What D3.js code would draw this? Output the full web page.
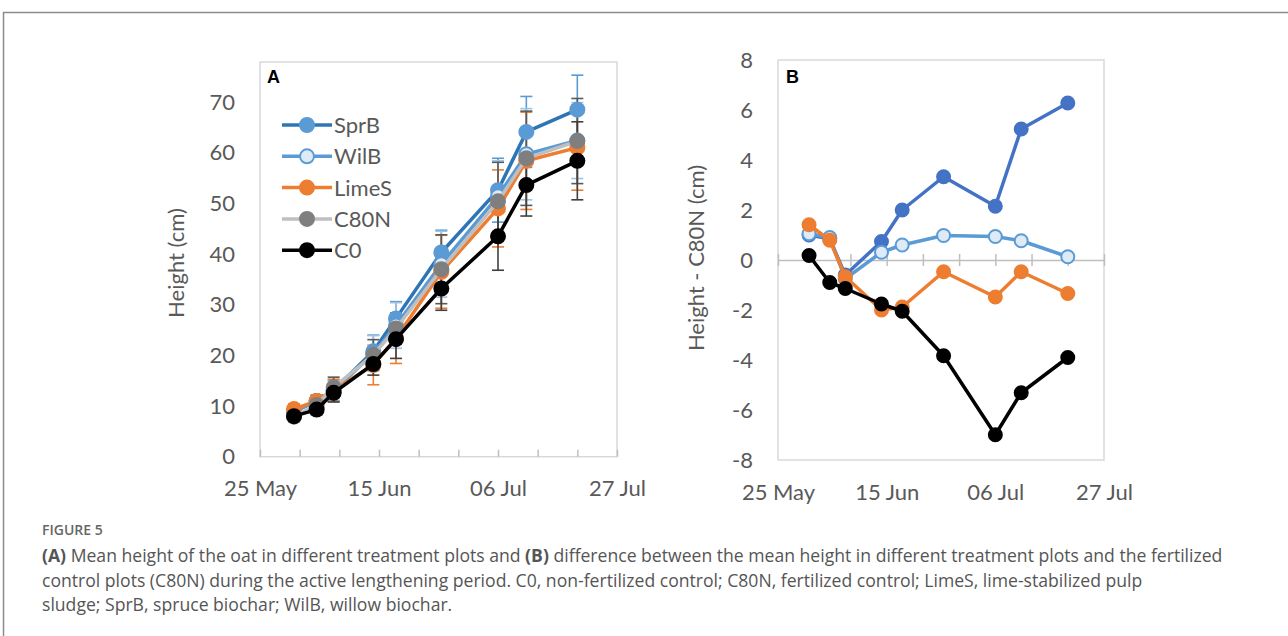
<!DOCTYPE html>
<html>
<head>
<meta charset="utf-8">
<script src="https://cdn.jsdelivr.net/npm/d3@7"></script>
<style>
  body { margin: 0; background: #fff; }
  svg { display: block; }
</style>
</head>
<body>
<div id="chart"></div>
<script>
// measurement dates (year is arbitrary)
const dates = ["2020-05-31", "2020-06-04", "2020-06-07", "2020-06-14", "2020-06-18",
               "2020-06-26", "2020-07-06", "2020-07-11", "2020-07-20"];
const xTickLabels = ["2020-05-25", "2020-06-15", "2020-07-06", "2020-07-27"];

// panel A: mean height (cm)
const sprB  = [8.9, 11.0, 13.1, 20.8, 27.3, 40.3, 52.6, 64.1, 68.5];
const wilB  = [8.9, 11.0, 12.9, 20.4, 25.9, 38.0, 51.4, 59.7, 62.4];
const limeS = [9.4, 11.0, 13.1, 18.1, 23.4, 36.5, 49.0, 58.4, 61.0];
const c80n  = [7.9, 10.2, 13.7, 20.1, 25.3, 37.0, 50.4, 58.9, 62.3];
const c0    = [8.0, 9.3, 12.6, 18.3, 23.2, 33.2, 43.5, 53.6, 58.4];

// panel A: error bars (+/-)
const sprBErr  = [1.0, 1.2, 2.0, 3.2, 3.3, 4.4, 6.3, 7.0, 6.8];
const wilBErr  = [1.0, 1.0, 2.0, 3.5, 4.5, 6.5, 7.0, 9.0, 7.5];
const limeSErr = [1.0, 1.2, 2.2, 3.9, 5.0, 7.2, 7.6, 9.6, 8.4];
const c80nErr  = [1.0, 1.1, 2.0, 3.0, 3.0, 6.8, 7.7, 9.3, 8.4];
const c0Err    = [0.8, 1.0, 1.8, 2.2, 3.8, 4.3, 6.7, 6.1, 7.7];

// panel B: height - C80N (cm)
const sprBDiff  = [1.0, 0.85, -0.6, 0.74, 2.0, 3.33, 2.15, 5.24, 6.28];
const wilBDiff  = [1.05, 0.9, -0.75, 0.31, 0.6, 0.98, 0.94, 0.77, 0.13];
const limeSDiff = [1.41, 0.79, -0.67, -2.0, -1.88, -0.47, -1.48, -0.47, -1.34];
const c0Diff    = [0.18, -0.9, -1.14, -1.76, -2.05, -3.83, -6.99, -5.31, -3.9];

const yTicksA = [0, 10, 20, 30, 40, 50, 60, 70];
const yTicksB = [-8, -6, -4, -2, 0, 2, 4, 6, 8];

const parse = d3.timeParse("%Y-%m-%d");
const xDates = dates.map(parse);
const labelDates = xTickLabels.map(parse);
const xStart = parse("2020-05-25"), xEnd = parse("2020-07-27");
// weekly tick marks counted from 25 May
const weekTicks = d3.range(0, 64, 7).map(k => d3.timeDay.offset(xStart, k));

const W = 1288, H = 636;
const font = "Lato, 'Open Sans', sans-serif";
const textGrey = "#595959";

const svg = d3.select("#chart").append("svg")
  .attr("width", W).attr("height", H)
  .attr("viewBox", `0 0 ${W} ${H}`);

// outer figure box
svg.append("rect")
  .attr("x", 3.5).attr("y", 12.5)
  .attr("width", W + 10).attr("height", H + 10)
  .attr("fill", "none").attr("stroke", "#8c8c8c").attr("stroke-width", 1.5);

function drawAxes(g, x, y, yTicks, zeroLine) {
  const [x0, x1] = x.range();
  const [yb, yt] = y.range();
  g.append("rect")
    .attr("x", x0).attr("y", yt)
    .attr("width", x1 - x0).attr("height", yb - yt)
    .attr("fill", "none").attr("stroke", "#d9d9d9").attr("stroke-width", 1.5);

  // week tick marks
  const tickY = zeroLine ? y(0) : yb;
  const tickAxis = g.append("g")
    .attr("transform", `translate(0,${tickY})`)
    .call(d3.axisBottom(x).tickValues(weekTicks)
      .tickSizeInner(zeroLine ? 6 : -7).tickSizeOuter(0).tickFormat(""));
  tickAxis.select(".domain").attr("stroke", zeroLine ? "#bfbfbf" : "none").attr("stroke-width", 1.5);
  tickAxis.selectAll(".tick line").attr("stroke", "#bfbfbf").attr("stroke-width", 1.5);
  if (zeroLine) tickAxis.selectAll(".tick line").attr("y1", -6);

  // date labels
  const lab = g.append("g")
    .attr("transform", `translate(0,${yb})`)
    .call(d3.axisBottom(x).tickValues(labelDates).tickSize(0).tickPadding(24)
      .tickFormat(d3.timeFormat("%d %b")));
  lab.select(".domain").remove();
  lab.selectAll("text").attr("font-family", font).attr("font-size", 22).attr("fill", textGrey);

  // y labels (plain hyphen for negatives)
  const ya = g.append("g")
    .attr("transform", `translate(${x0},0)`)
    .call(d3.axisLeft(y).tickValues(yTicks).tickSize(0).tickPadding(25).tickFormat(d => String(d)));
  ya.select(".domain").remove();
  ya.selectAll("text").attr("font-family", font).attr("font-size", 22).attr("fill", textGrey);
}

function drawSeries(g, x, y, vals, s, r) {
  const pts = xDates.map((d, i) => ({ d, v: vals[i] }));
  g.append("path")
    .datum(pts)
    .attr("fill", "none")
    .attr("stroke", s.line)
    .attr("stroke-width", 3.5)
    .attr("stroke-linejoin", "round")
    .attr("d", d3.line().x(p => x(p.d)).y(p => y(p.v)));
  g.selectAll(null)
    .data(pts)
    .join("circle")
    .attr("cx", p => x(p.d))
    .attr("cy", p => y(p.v))
    .attr("r", r)
    .attr("fill", s.fill)
    .attr("stroke", s.stroke)
    .attr("stroke-width", 2);
}

// ---------- panel A ----------
const xA = d3.scaleTime().domain([xStart, xEnd]).range([260, 617]);
const yA = d3.scaleLinear().domain([0, 77.9]).range([456.7, 62]);
const gA = svg.append("g");
drawAxes(gA, xA, yA, yTicksA, false);

const seriesA = [
  { name: "SprB",  vals: sprB,  err: sprBErr,  line: "#2e75b6", fill: "#5b9bd5", stroke: "#5b9bd5", errC: "#5b9bd5" },
  { name: "WilB",  vals: wilB,  err: wilBErr,  line: "#5b9bd5", fill: "#deebf7", stroke: "#5b9bd5", errC: "#9dc3e6" },
  { name: "LimeS", vals: limeS, err: limeSErr, line: "#ed7d31", fill: "#ed7d31", stroke: "#ed7d31", errC: "#ed7d31" },
  { name: "C80N",  vals: c80n,  err: c80nErr,  line: "#bfbfbf", fill: "#7f7f7f", stroke: "#7f7f7f", errC: "#595959" },
  { name: "C0",    vals: c0,    err: c0Err,    line: "#000000", fill: "#000000", stroke: "#000000", errC: "#404040" }
];

// error bars under the lines
seriesA.forEach(s => {
  const eb = gA.append("g").attr("stroke", s.errC).attr("stroke-width", 1.6);
  xDates.forEach((d, i) => {
    const cx = xA(d), lo = yA(s.vals[i] - s.err[i]), hi = yA(s.vals[i] + s.err[i]);
    eb.append("line").attr("x1", cx).attr("x2", cx).attr("y1", lo).attr("y2", hi);
    eb.append("line").attr("x1", cx - 6).attr("x2", cx + 6).attr("y1", lo).attr("y2", lo);
    eb.append("line").attr("x1", cx - 6).attr("x2", cx + 6).attr("y1", hi).attr("y2", hi);
  });
});
seriesA.forEach(s => drawSeries(gA, xA, yA, s.vals, s, 7));

// legend
const leg = gA.append("g");
seriesA.forEach((s, i) => {
  const ly = 125 + i * 31.3;
  leg.append("line").attr("x1", 282).attr("x2", 332).attr("y1", ly).attr("y2", ly)
    .attr("stroke", s.line).attr("stroke-width", 3.5);
  leg.append("circle").attr("cx", 307).attr("cy", ly).attr("r", 7)
    .attr("fill", s.fill).attr("stroke", s.stroke).attr("stroke-width", 2);
  leg.append("text").attr("x", 334).attr("y", ly).attr("dy", "0.36em")
    .attr("font-family", font).attr("font-size", 22).attr("fill", textGrey)
    .text(s.name);
});

gA.append("text").attr("x", 267).attr("y", 83)
  .attr("font-family", "'Liberation Sans', Arial, sans-serif").attr("font-weight", "bold")
  .attr("font-size", 18).text("A");
gA.append("text")
  .attr("transform", "translate(184,263) rotate(-90)")
  .attr("text-anchor", "middle")
  .attr("font-family", font).attr("font-size", 22).attr("fill", textGrey)
  .text("Height (cm)");

// ---------- panel B ----------
const xB = d3.scaleTime().domain([xStart, xEnd]).range([778, 1104]);
const yB = d3.scaleLinear().domain([-8, 8]).range([460, 60]);
const gB = svg.append("g");
drawAxes(gB, xB, yB, yTicksB, true);

const seriesB = [
  { vals: sprBDiff,  line: "#4472c4", fill: "#4472c4", stroke: "#4472c4" },
  { vals: wilBDiff,  line: "#5b9bd5", fill: "#deebf7", stroke: "#5b9bd5" },
  { vals: limeSDiff, line: "#ed7d31", fill: "#ed7d31", stroke: "#ed7d31" },
  { vals: c0Diff,    line: "#000000", fill: "#000000", stroke: "#000000" }
];
seriesB.forEach(s => drawSeries(gB, xB, yB, s.vals, s, 6.5));

gB.append("text").attr("x", 786).attr("y", 83)
  .attr("font-family", "'Liberation Sans', Arial, sans-serif").attr("font-weight", "bold")
  .attr("font-size", 18).text("B");
gB.append("text")
  .attr("transform", "translate(704,258) rotate(-90)")
  .attr("text-anchor", "middle")
  .attr("font-family", font).attr("font-size", 22).attr("fill", textGrey)
  .text("Height - C80N (cm)");

// ---------- caption ----------
const cap = svg.append("g").attr("font-family", "'Open Sans', 'Noto Sans', sans-serif").attr("fill", "#555");
cap.append("text").attr("x", 42).attr("y", 535)
  .attr("font-size", 14).attr("font-weight", 600).attr("fill", "#666").text("FIGURE 5");
const capLines = [
  [["(A)", true], [" Mean height of the oat in different treatment plots and ", false], ["(B)", true],
   [" difference between the mean height in different treatment plots and the fertilized", false]],
  [["control plots (C80N) during the active lengthening period. C0, non-fertilized control; C80N, fertilized control; LimeS, lime-stabilized pulp", false]],
  [["sludge; SprB, spruce biochar; WilB, willow biochar.", false]]
];
capLines.forEach((parts, i) => {
  const t = cap.append("text").attr("x", 42).attr("y", 562 + i * 24.5).attr("font-size", 17.6);
  parts.forEach(([s, b]) => t.append("tspan").attr("font-weight", b ? 700 : 400).text(s));
});
</script>
</body>
</html>
